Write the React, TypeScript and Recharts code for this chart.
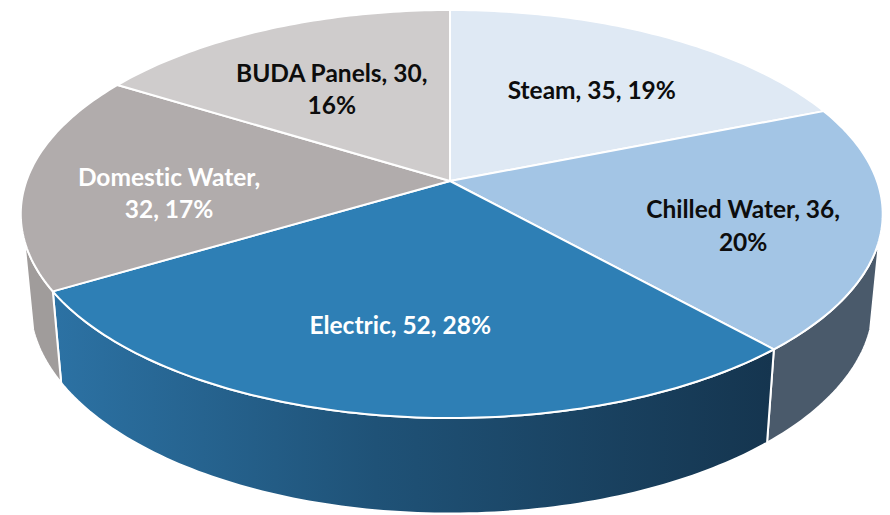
import React from 'react';
import { PieChart, Pie } from 'recharts';

const categories = ['Steam', 'Chilled Water', 'Electric', 'Domestic Water', 'BUDA Panels'];
const values = [35, 36, 52, 32, 30];
const shares = [19, 20, 28, 17, 16];

const topColors = ['#dfe9f4', '#a3c5e5', '#2e7fb5', '#b1acac', '#cfcccc'];
const wallColors = ['#dfe9f4', '#4a5a6b', 'url(#electricWall)', '#a09c9b', '#cfcccc'];
const labelColors = ['#0d0d0d', '#0d0d0d', '#ffffff', '#ffffff', '#0d0d0d'];

// where each label wraps, and how far it sits from the middle of its slice
const labelWraps = ['none', 'share', 'none', 'value', 'share'];
const labelNudges = [[9, -1], [38, 16], [-7, 13], [-27, 12], [-4, 3]];

const topData = categories.map((name, i) => ({ name, value: values[i], fill: topColors[i] }));
const wallData = categories.map((name, i) => ({ name, value: values[i], fill: wallColors[i] }));

// perspective of the tilted disc
const TILT = -0.1618;
const FLATTEN = 0.4653;
const LEFT_SQUEEZE = 0.992;
const WALL_DROP = 88;
const WALL_SHRINK = 0.979;
const WALL_FLATTEN = 0.4904;
// the side of the disc shows only between these bearings (clockwise from 12 o'clock)
const WALL_FROM = 106.4;
const WALL_TO = 253.6;

const bearing = (angle: number) => 90 - angle;

function project(cx: number, cy: number, r: number, deg: number, f = 1, flatten = FLATTEN) {
  const rad = (deg * Math.PI) / 180;
  const ux = Math.sin(rad) * f;
  const uy = -Math.cos(rad) * f;
  const den = 1 + TILT * uy;
  const side = ux < 0 ? LEFT_SQUEEZE : 1;
  return { x: cx + (r * side * ux) / den, y: cy + (r * flatten * uy) / den };
}

function rim(cx: number, cy: number, r: number, from: number, to: number, flatten = FLATTEN) {
  const steps = Math.max(2, Math.ceil(Math.abs(to - from)));
  const pts: string[] = [];
  for (let i = 0; i <= steps; i++) {
    const p = project(cx, cy, r, from + ((to - from) * i) / steps, 1, flatten);
    pts.push(`${p.x.toFixed(2)} ${p.y.toFixed(2)}`);
  }
  return pts;
}

function TopSlice(props: any) {
  const { cx, cy, outerRadius, startAngle, endAngle, fill } = props;
  const pts = rim(cx, cy, outerRadius, bearing(startAngle), bearing(endAngle));
  return (
    <path
      d={`M ${cx} ${cy} L ${pts.join(' L ')} Z`}
      fill={fill}
      stroke="#ffffff"
      strokeWidth={2}
      strokeLinejoin="round"
    />
  );
}

function WallSlice(props: any) {
  const { cx, cy, outerRadius, startAngle, endAngle, fill } = props;
  const from = Math.max(bearing(startAngle), WALL_FROM);
  const to = Math.min(bearing(endAngle), WALL_TO);
  if (to <= from) return <g />;
  const upper = rim(cx, cy, outerRadius, from, to);
  const lower = rim(cx, cy + WALL_DROP, outerRadius * WALL_SHRINK, to, from, WALL_FLATTEN);
  return (
    <path
      d={`M ${upper.concat(lower).join(' L ')} Z`}
      fill={fill}
      stroke="#ffffff"
      strokeWidth={2}
      strokeLinejoin="round"
    />
  );
}

function labelLines(i: number) {
  const name = categories[i];
  const value = values[i];
  const share = `${shares[i]}%`;
  if (labelWraps[i] === 'share') return [`${name}, ${value},`, share];
  if (labelWraps[i] === 'value') return [`${name},`, `${value}, ${share}`];
  return [`${name}, ${value}, ${share}`];
}

function SliceLabel(props: any) {
  const { cx, cy, outerRadius, midAngle, index } = props;
  const p = project(cx, cy, outerRadius, bearing(midAngle), 0.6);
  const [dx, dy] = labelNudges[index];
  const lines = labelLines(index);
  const lineHeight = 32.5;
  const top = p.y + dy - ((lines.length - 1) * lineHeight) / 2;
  return (
    <text
      textAnchor="middle"
      dominantBaseline="central"
      fill={labelColors[index]}
      style={{
        fontFamily: 'Lato, sans-serif',
        fontWeight: 700,
        fontSize: 24.5,
        fontVariantLigatures: 'none',
      }}
    >
      {lines.map((line, n) => (
        <tspan key={n} x={p.x + dx} y={top + n * lineHeight}>
          {line}
        </tspan>
      ))}
    </text>
  );
}

export default function App() {
  return (
    <div style={{ position: 'absolute', left: 0, top: 0, width: 890, height: 515, background: '#fff' }}>
      <PieChart width={890} height={515} margin={{ top: 0, right: 0, bottom: 0, left: 0 }}>
        <defs>
          <linearGradient id="electricWall" gradientUnits="userSpaceOnUse" x1="52" y1="0" x2="772" y2="0">
            <stop offset="0%" stopColor="#2c72a4" />
            <stop offset="45%" stopColor="#1f5277" />
            <stop offset="100%" stopColor="#15354f" />
          </linearGradient>
        </defs>
        <Pie
          data={wallData}
          dataKey="value"
          nameKey="name"
          cx={450}
          cy={181}
          outerRadius={427}
          startAngle={90}
          endAngle={-270}
          shape={WallSlice}
          label={false}
          labelLine={false}
          isAnimationActive={false}
        />
        <Pie
          data={topData}
          dataKey="value"
          nameKey="name"
          cx={450}
          cy={181}
          outerRadius={427}
          startAngle={90}
          endAngle={-270}
          shape={TopSlice}
          label={SliceLabel}
          labelLine={false}
          isAnimationActive={false}
        />
      </PieChart>
    </div>
  );
}
